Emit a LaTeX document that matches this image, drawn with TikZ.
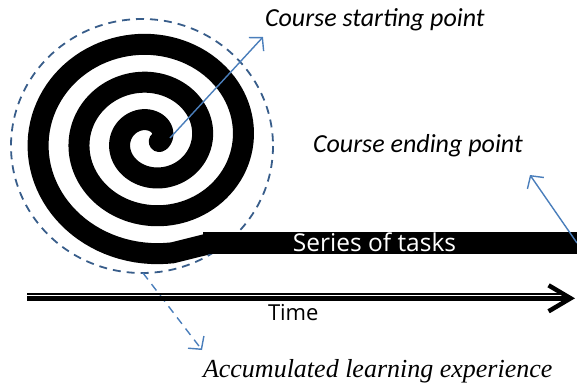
\documentclass[tikz,border=0pt]{standalone}
\usepackage{fontspec}
\setmainfont{Carlito}
\newfontfamily\tasksfont{Open Sans}
\newfontfamily\accfont{Liberation Serif}
\usepackage{xcolor}
\usetikzlibrary{positioning}
\usetikzlibrary{arrows.meta}
\definecolor{pointblue}{HTML}{4A7EBB}
\definecolor{ringblue}{HTML}{385D8A}

\begin{document}
\begin{tikzpicture}[x=1pt, y=-1pt,
every node/.style = {inner sep=0pt, outer sep=0pt},
  caption/.style = {font=\fontsize{26}{29}\selectfont\itshape, anchor=base west},
  pointer/.style = {draw=pointblue, line width=1.4pt, -{Straight Barb[length=9pt, width=20pt]}}
]
\useasboundingbox (0,0) rectangle (577,383);
% spiral of the course
\draw[line width=21pt, line cap=round]
    plot[domain=-15:1000, samples=300, variable=\t]
    ({151 + 41*(0.5+(\t-90)/360)*cos(\t)}, {139.5 - 38*(0.5+(\t-90)/360)*sin(\t)}) -- (212,243);
\draw[ringblue, line width=1.8pt, dash pattern=on 8pt off 6pt] (142,146) circle [x radius=131, y radius=127];
\node[fill=black, minimum width=380pt, minimum height=22pt, anchor=west] (bar) at (203,243) {};
\node[text=white, font=\tasksfont\fontsize{24.5}{28}\selectfont] (tasks) at (374.5,242) {Series of tasks};
\coordinate (centre) at (170,138);
\coordinate (starttip) at (263,37);
\coordinate (endtip) at (530,175);
\coordinate (ringfoot) at (143,273);
\coordinate (acctip) at (202,350);
\node[caption] (start) at (265,26) {Course starting point};
\node[caption] (ending) at (313,152) {Course ending point};
\node[font=\accfont\fontsize{26}{30}\selectfont\itshape, anchor=base west] (acc) at (203,377) {Accumulated learning experience};
\draw[pointer] (centre) -- (starttip);
\draw[pointer] (577,243) -- (endtip);
\draw[pointer, dash pattern=on 8pt off 6pt] (ringfoot) -- (acctip);
% time line
\coordinate (t0) at (27,298.3);
\coordinate (t1) at (575,298.3);
\draw[line width=1.7pt] (27,294.2) -- (566,294.2);
\draw[line width=4.5pt, -{Straight Barb[length=22pt, width=26pt]}] (t0) -- (t1);
\node[font=\tasksfont\fontsize{22}{26}\selectfont, anchor=base west] (time) at (268,320) {Time};
\end{tikzpicture}
\end{document}
